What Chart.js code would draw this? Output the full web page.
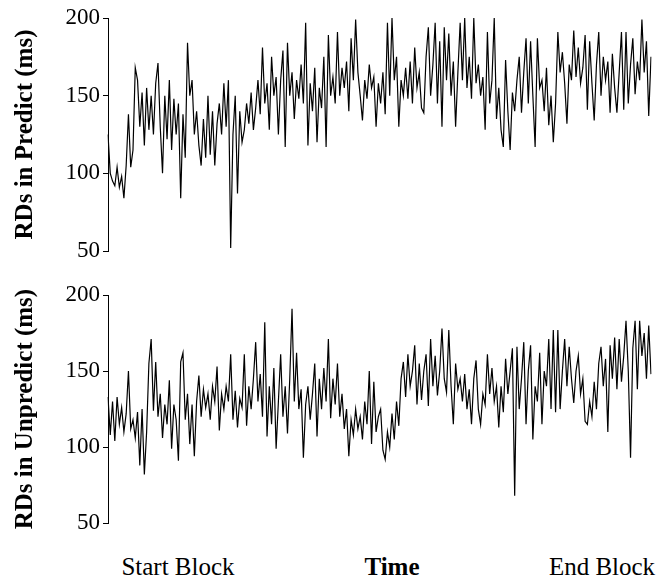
<!DOCTYPE html>
<html>
<head>
<meta charset="utf-8">
<script src="https://cdn.jsdelivr.net/npm/chart.js@4.4.1/dist/chart.umd.min.js"></script>
<style>
  html, body { margin: 0; padding: 0; background: #fff; }
  #wrap { position: relative; width: 667px; height: 581px; overflow: hidden; }
  canvas { position: absolute; left: 0; }
  .xl { position: absolute; font-family: "Liberation Serif", "Times New Roman", serif; font-size: 25px; line-height: 25px; color: #000; white-space: nowrap; transform: translateX(-50%); }
</style>
</head>
<body>
<div id="wrap">
  <canvas id="c1" width="667" height="270" style="top:0"></canvas>
  <canvas id="c2" width="667" height="270" style="top:270px"></canvas>
  <div class="xl" id="lbl0" style="left:178px; top:554px;"></div>
  <div class="xl" id="lbl1" style="left:392px; top:554px; font-weight:bold;"></div>
  <div class="xl" id="lbl2" style="left:602px; top:554px;"></div>
</div>
<script>
// ---- data ----
const xLabels = ["Start Block", "Time", "End Block"];
const yTicks = [50, 100, 150, 200];
const predictTitle = "RDs in Predict (ms)";
const unpredictTitle = "RDs in Unpredict (ms)";

const predict = [
  125,100,95,92,104,91,98,84,105,138,104,115,168,160,130,152,118,155,128,150,
  125,158,171,130,100,150,122,160,115,148,125,145,84,138,110,184,150,160,125,140,
  118,105,135,110,150,112,140,105,132,145,125,158,130,160,52,125,150,87,140,120,
  128,145,132,152,128,142,160,138,181,145,158,128,175,150,162,125,160,179,117,184,
  150,165,135,160,148,170,145,197,118,158,140,168,120,155,142,175,117,189,150,162,
  145,191,150,168,155,172,140,187,160,199,165,150,134,160,148,170,155,162,130,158,
  145,165,138,197,150,200,160,175,130,160,150,168,148,172,145,181,155,165,142,139,
  175,194,150,170,197,145,185,130,194,160,190,150,172,130,165,197,160,200,155,175,
  148,200,158,170,150,162,128,191,145,160,200,135,155,128,117,173,140,115,152,140,
  160,175,139,165,187,145,185,150,117,187,155,160,140,168,131,150,120,145,191,165,
  178,158,132,170,160,192,162,181,158,168,189,141,185,158,134,170,191,150,175,160,
  172,139,177,155,139,165,191,141,191,145,170,187,151,172,160,199,165,185,137,175
];

const unpredict = [
  133,108,130,104,133,115,126,110,122,150,112,118,106,123,88,125,82,110,155,171,
  124,156,120,135,106,128,115,144,99,128,118,91,156,162,118,135,102,128,94,130,
  147,120,138,126,135,118,140,130,153,111,135,125,140,130,161,118,137,113,132,126,
  161,114,140,125,145,169,130,148,120,182,107,140,115,152,99,130,161,120,140,109,
  145,191,130,162,125,138,93,128,140,118,135,155,107,145,125,152,130,171,119,145,
  128,155,120,135,112,125,94,118,108,125,112,120,105,130,115,150,102,143,110,120,
  125,98,92,110,100,122,105,130,114,145,156,133,161,140,150,167,128,155,131,150,
  161,127,171,140,160,134,150,178,145,136,177,140,115,155,138,145,130,148,125,138,
  115,145,157,125,115,135,128,161,135,152,130,140,113,140,123,158,135,150,165,68,
  166,125,145,169,115,150,167,105,140,130,162,115,150,140,171,125,177,123,177,125,
  150,171,140,166,145,129,150,160,135,145,117,115,130,120,143,125,155,166,140,158,
  110,167,145,172,138,171,143,160,183,150,93,165,183,138,183,160,175,145,180,148
];

// ---- rendering ----
document.getElementById('lbl0').textContent = xLabels[0];
document.getElementById('lbl1').textContent = xLabels[1];
document.getElementById('lbl2').textContent = xLabels[2];

const serif = '"Liberation Serif", "Times New Roman", serif';

function makeChart(id, values, title, pad) {
  const labels = values.map((_, i) => i);
  return new Chart(document.getElementById(id), {
    type: 'line',
    data: {
      labels: labels,
      datasets: [{
        data: values,
        borderColor: '#000',
        borderWidth: 1.2,
        pointRadius: 0,
        tension: 0,
        fill: false
      }]
    },
    options: {
      responsive: false,
      animation: false,
      events: [],
      layout: { padding: pad },
      plugins: { legend: { display: false }, tooltip: { enabled: false } },
      scales: {
        x: { display: false },
        y: {
          min: yTicks[0],
          max: yTicks[yTicks.length - 1],
          afterBuildTicks: (scale) => { scale.ticks = yTicks.map(v => ({ value: v })); },
          afterFit: (scale) => { scale.width = 108; },
          ticks: {
            color: '#000',
            padding: 3,
            font: { family: serif, size: 23 }
          },
          grid: {
            drawOnChartArea: false,
            drawTicks: true,
            tickLength: 5,
            color: '#000',
            lineWidth: 1
          },
          border: { display: true, color: '#000', width: 1 },
          title: {
            display: true,
            text: title,
            color: '#000',
            padding: { top: 11, bottom: 0 },
            font: { family: serif, size: 25, weight: 'bold', lineHeight: 1.2 }
          }
        }
      }
    }
  });
}

makeChart('c1', predict, predictTitle, { top: 18, bottom: 19, left: 0, right: 16 });
makeChart('c2', unpredict, unpredictTitle, { top: 25, bottom: 15, left: 0, right: 16 });
</script>
</body>
</html>
